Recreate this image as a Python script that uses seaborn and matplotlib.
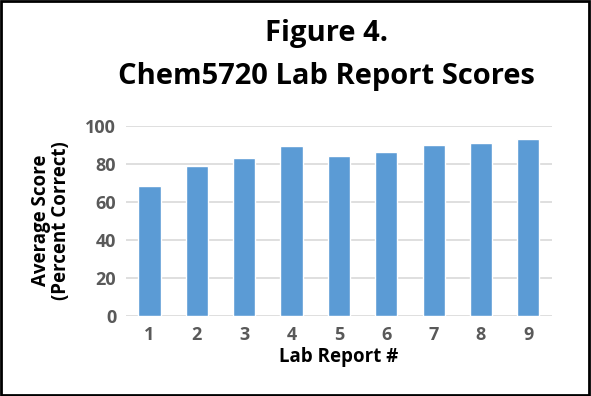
import matplotlib
matplotlib.use("Agg", force=True)

import pandas as pd
import seaborn as sns
import matplotlib.pyplot as plt
from matplotlib.patches import Rectangle

# data
lab_reports = ["1", "2", "3", "4", "5", "6", "7", "8", "9"]
avg_scores = [68, 79, 83, 89, 84, 86, 90, 91, 93]
y_ticks = [0, 20, 40, 60, 80, 100]

sns.set_theme(style="white")
plt.rcParams['font.family'] = ['Open Sans', 'DejaVu Sans']

df = pd.DataFrame({"report": lab_reports, "score": avg_scores})

fig = plt.figure(figsize=(5.91, 3.96), dpi=100)
ax = fig.add_axes([0.213, 0.202, 0.721, 0.481])

sns.barplot(data=df, x="report", y="score", color="#5B9BD5", saturation=1,
            width=0.47, ax=ax, order=lab_reports)

ax.set_ylim(0, 100)
ax.set_yticks(y_ticks)
ax.yaxis.grid(True, color="#D9D9D9", linewidth=1.2)
ax.set_axisbelow(True)
for s in ax.spines.values():
    s.set_visible(False)
ax.tick_params(axis="both", length=0, labelsize=13, colors="#595959", pad=7)
for lab in ax.get_xticklabels() + ax.get_yticklabels():
    lab.set_fontweight("bold")

ax.set_xlabel("Lab Report #", fontsize=13.5, fontweight="bold", color="black", labelpad=2)
ax.set_ylabel("Average Score\n(Percent Correct)", fontsize=13.5, fontweight="bold",
              color="black", labelpad=10, linespacing=1.0)

fig.text(0.553, 0.915, "Figure 4.", ha="center", va="center", fontsize=21,
         fontweight="bold", color="black")
fig.text(0.553, 0.808, "Chem5720 Lab Report Scores", ha="center", va="center",
         fontsize=21, fontweight="bold", color="black")

fig.patches.append(Rectangle((0.002, 0.003), 0.995, 0.994, transform=fig.transFigure,
                             fill=False, edgecolor="black", linewidth=2))

fig.savefig("out.png", dpi=100)
plt.close()
